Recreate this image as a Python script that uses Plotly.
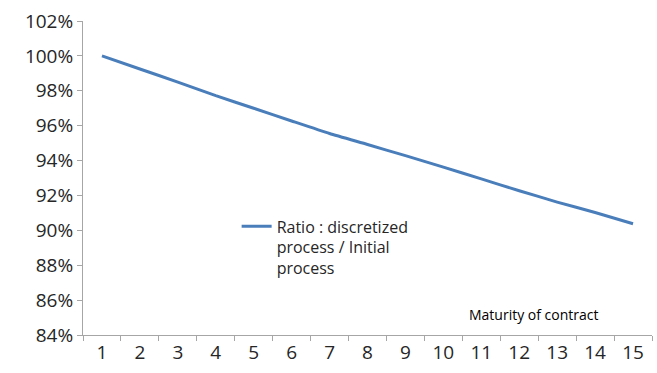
import plotly.graph_objects as go

# Maturity of contract (years) and ratio of discretized to initial process
maturity = list(range(1, 16))
ratio = [1.000, 0.9925, 0.985, 0.9772, 0.970, 0.9627, 0.9555, 0.9492,
         0.9428, 0.9362, 0.9295, 0.9227, 0.9162, 0.9102, 0.9038]
y_ticks = [0.84, 0.86, 0.88, 0.90, 0.92, 0.94, 0.96, 0.98, 1.00, 1.02]

axis_color = "#a6a6a6"
text_color = "#262626"
base_font = "Open Sans"

fig = go.Figure()
fig.add_trace(go.Scatter(
    x=maturity, y=ratio, mode="lines",
    line=dict(color="#4a7ebb", width=3, shape="spline", smoothing=0.5),
    name="Ratio : discretized<br>process / Initial<br>process",
    showlegend=True,
))

fig.update_layout(
    width=657, height=373,
    margin=dict(l=83, r=5, t=21, b=38),
    paper_bgcolor="white", plot_bgcolor="white",
    font=dict(family=base_font, color=text_color),
    showlegend=True,
    legend=dict(
        x=0.27, y=0.40, xanchor="left", yanchor="top", valign="top",
        bgcolor="rgba(0,0,0,0)", borderwidth=0,
        font=dict(size=16, family=base_font, color=text_color),
        itemwidth=30, tracegroupgap=0,
    ),
    xaxis=dict(
        range=[0.5, 15.5], tickmode="array", tickvals=maturity,
        ticktext=[str(m) for m in maturity], ticks="",
        showgrid=False, zeroline=False,
        showline=True, linecolor=axis_color, linewidth=1,
        tickfont=dict(size=19, family=base_font, color=text_color),
        minor=dict(tickmode="array", tickvals=[m - 0.5 for m in maturity] + [15.5],
                   ticks="outside", ticklen=5, tickcolor=axis_color, showgrid=False),
        fixedrange=True,
    ),
    yaxis=dict(
        range=[0.84, 1.02], tickmode="array", tickvals=y_ticks,
        tickformat=".0%", ticks="outside", ticklen=5, tickcolor=axis_color,
        showgrid=False, zeroline=False,
        showline=True, linecolor=axis_color, linewidth=1,
        tickfont=dict(size=19, family=base_font, color=text_color),
        fixedrange=True,
    ),
    annotations=[dict(
        text="Maturity of contract", x=0.7926, y=0.064,
        xref="paper", yref="paper", xanchor="center", yanchor="middle",
        showarrow=False, font=dict(size=14, family=base_font, color="#000000"),
    )],
)

fig.write_html("out.html")
